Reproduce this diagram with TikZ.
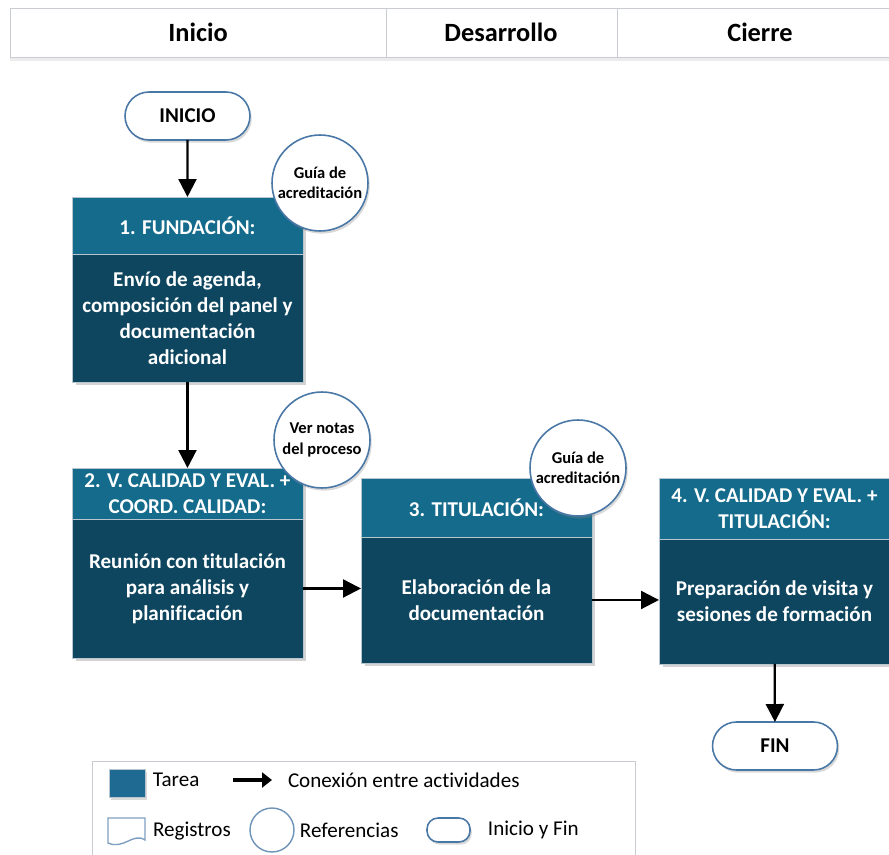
\documentclass[tikz,border=0pt]{standalone}
\usepackage{fontspec}
\setmainfont{Carlito}[Ligatures=NoCommon]
\usetikzlibrary{positioning,shadows,arrows.meta}
\definecolor{hdrblue}{HTML}{146B8C}
\definecolor{bodyblue}{HTML}{0E465F}
\definecolor{taskblue}{HTML}{1F6A93}
\definecolor{refline}{HTML}{4A78A6}
\definecolor{boxline}{HTML}{B8C6D0}
\definecolor{frameline}{HTML}{C9CDD2}

\begin{document}
\begin{tikzpicture}[x=0.02cm,y=-0.02cm,every node/.style={outer sep=0pt}]
\tikzstyle{hdr}=[draw=boxline,fill=hdrblue,text=white,align=center,inner sep=0pt,
minimum width=4.62cm,anchor=north west,font=\bfseries\fontsize{12}{14.7}\selectfont,
drop shadow={shadow xshift=2pt,shadow yshift=-2pt,opacity=0.35}]
\tikzstyle{body}=[draw=boxline,fill=bodyblue,text=white,align=center,inner sep=0pt,
minimum width=4.62cm,font=\bfseries\fontsize{12}{14.7}\selectfont,
drop shadow={shadow xshift=2pt,shadow yshift=-2pt,opacity=0.35}]
\tikzstyle{ref}=[circle,draw=refline,line width=0.9pt,fill=white,minimum size=1.92cm,
inner sep=0pt,align=center,font=\bfseries\fontsize{9.4}{11.5}\selectfont,
drop shadow={shadow xshift=1pt,shadow yshift=-1.5pt,opacity=0.3}]
\tikzstyle{term}=[draw=refline,line width=0.9pt,fill=white,rounded corners=0.48cm,
minimum width=2.5cm,minimum height=0.96cm,font=\bfseries\fontsize{12}{14}\selectfont,
drop shadow={shadow xshift=1pt,shadow yshift=-1.5pt,opacity=0.3}]
\tikzstyle{flow}=[-{Triangle[length=0.36cm,width=0.36cm]},line width=1.3pt]
\tikzstyle{legtext}=[anchor=west,inner sep=0pt,font=\fontsize{12}{14}\selectfont]
\tikzstyle{phase}=[font=\bfseries\fontsize{15}{17}\selectfont]
\useasboundingbox (0,0) rectangle (889,855);
%
% phases
\draw [frameline,fill=white,drop shadow={shadow xshift=0pt,shadow yshift=-2pt,opacity=0.15}]
(10,8) rectangle (889,57);
\draw [frameline] (386,8) -- (386,57) (617,8) -- (617,57);
\node (colInicio) [phase] at (198,32) {Inicio};
\node (colDesarrollo) [phase] at (501,32) {Desarrollo};
\node (colCierre) [phase] at (760,32) {Cierre};
%
% activities
\node (inicio) [term] at (187.5,116) {INICIO};
\node (hdr1) [hdr,minimum height=1.14cm] at (72,197) {1. FUNDACIÓN:};
\node (body1) [body,minimum height=2.56cm,below=0pt of hdr1]
{Envío de agenda,\\composición del panel y\\documentación\\adicional};
\node (hdr2) [hdr,minimum height=1.02cm] at (72,468) {2. V. CALIDAD Y EVAL. +\\COORD. CALIDAD:};
\node (body2) [body,minimum height=2.78cm,below=0pt of hdr2]
{Reunión con titulación\\para análisis y\\planificación};
\node (hdr3) [hdr,minimum height=1.18cm] at (361,478) {3. TITULACIÓN:};
\node (body3) [body,minimum height=2.52cm,below=0pt of hdr3]
{Elaboración de la\\documentación};
\node (hdr4) [hdr,minimum height=1.22cm] at (659,478) {4. V. CALIDAD Y EVAL. +\\TITULACIÓN:};
\node (body4) [body,minimum height=2.5cm,below=0pt of hdr4]
{Preparación de visita y\\sesiones de formación};
\node (fin) [term] at (775,746) {FIN};
%
% references
\node (guia1) [ref] at (320,183) {Guía de\\acreditación};
\node (notas) [ref] at (322,440) {Ver notas\\del proceso};
\node (guia2) [ref] at (578,468) {Guía de\\acreditación};
%
\draw [flow] (inicio) -- (hdr1);
\draw [flow] (body1) -- (hdr2);
\draw [flow] (body2.east) -- (body3.west |- body2.east);
\draw [flow] (body3.east) -- (body4.west |- body3.east);
\draw [flow] (body4) -- (fin);
%
% legend
\draw [frameline] (92,855) -- (92,761) -- (635,761) -- (635,855);
\node (legTask) [fill=taskblue,draw=boxline,minimum width=0.72cm,minimum height=0.56cm,
inner sep=0pt,drop shadow={shadow xshift=1pt,shadow yshift=-1.5pt,opacity=0.3}] at (127,783) {};
\coordinate (legArrowA) at (233,780);
\coordinate (legArrowB) at (272,780);
\node (txtTask) [legtext,right=0.16cm of legTask.east |- legArrowA] {Tarea};
\draw [-{Triangle[length=0.2cm,width=0.3cm]},line width=2.6pt] (legArrowA) -- (legArrowB);
\node (txtArrow) [legtext,right=0.32cm of legArrowB] {Conexión entre actividades};
\draw [refline!70,line width=0.8pt] (108,818) -- (145,818) -- (145,840)
.. controls (133,832) and (124,850) .. (108,843) -- cycle;
\coordinate (legDoc) at (145,831);
\node (txtDoc) [legtext,right=0.16cm of legDoc] {Registros};
\node (legRef) [circle,draw=refline!80,fill=white,line width=0.8pt,minimum size=0.88cm,inner sep=0pt] at (272,830) {};
\node (txtRef) [legtext,right=0.12cm of legRef] {Referencias};
\node (legTerm) [draw=refline,fill=white,line width=0.9pt,rounded corners=0.22cm,minimum width=0.86cm,
minimum height=0.48cm,inner sep=0pt,drop shadow={shadow xshift=1pt,shadow yshift=-1.5pt,opacity=0.3}]
at (448.5,830) {};
\node (txtTerm) [legtext,right=0.36cm of legTerm] {Inicio y Fin};
\end{tikzpicture}
\end{document}
